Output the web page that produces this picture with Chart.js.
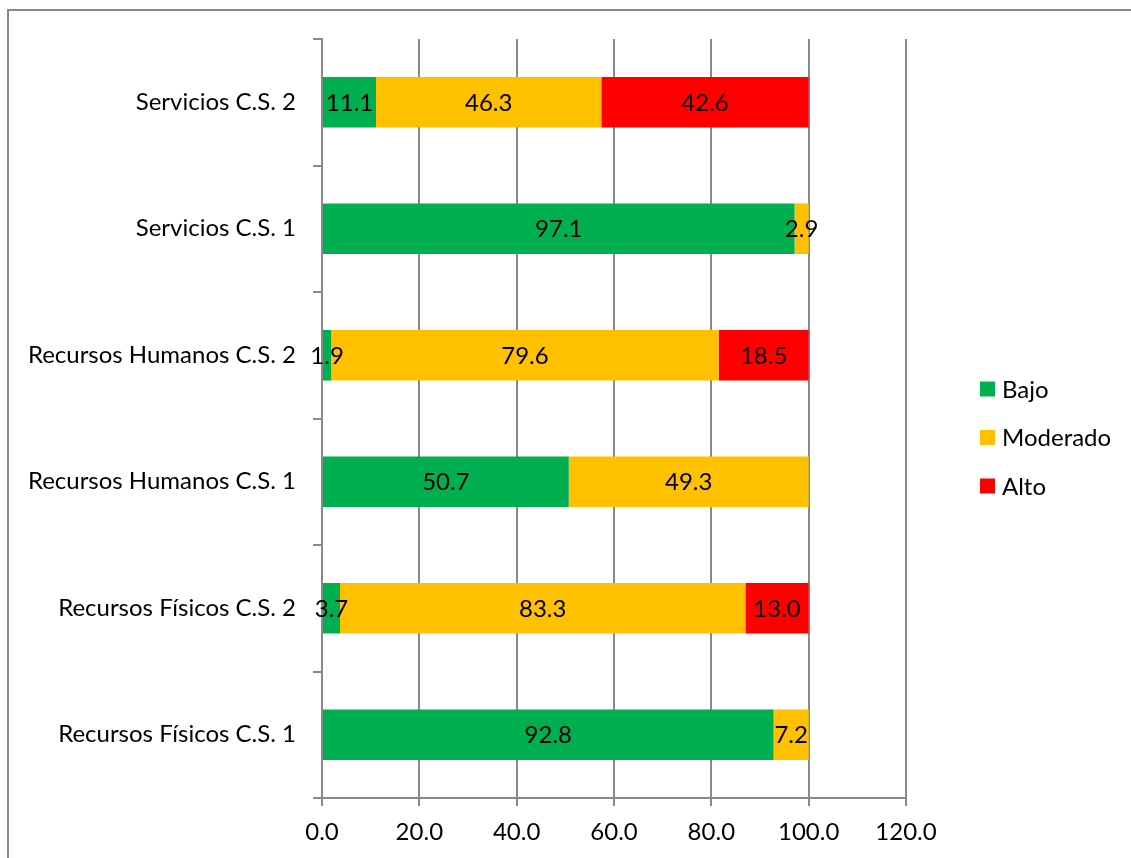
<!DOCTYPE html>
<html>
<head>
<meta charset="utf-8">
<script src="https://cdn.jsdelivr.net/npm/chart.js@4/dist/chart.umd.min.js"></script>
<style>
  html, body { margin: 0; padding: 0; background: #fff; overflow: hidden; }
  #wrap { position: relative; width: 1131px; height: 858px; }
</style>
</head>
<body>
<div id="wrap"><canvas id="chart" width="1131" height="858"></canvas></div>
<script>
const categories = [
  "Servicios C.S. 2",
  "Servicios C.S. 1",
  "Recursos Humanos C.S. 2",
  "Recursos Humanos C.S. 1",
  "Recursos Físicos C.S. 2",
  "Recursos Físicos C.S. 1"
];
const bajo = [11.1, 97.1, 1.9, 50.7, 3.7, 92.8];
const moderado = [46.3, 2.9, 79.6, 49.3, 83.3, 7.2];
const alto = [42.6, 0, 18.5, 0, 13.0, 0];

const FONT = "Lato";
const SIZE = 24;
const GRAY = "#898989";

// value labels in the middle of each segment
const segmentLabels = {
  id: "segmentLabels",
  afterDatasetsDraw(chart) {
    const ctx = chart.ctx;
    ctx.save();
    ctx.font = SIZE + "px " + FONT;
    ctx.fillStyle = "#000";
    ctx.textAlign = "center";
    ctx.textBaseline = "middle";
    chart.data.datasets.forEach((ds, i) => {
      chart.getDatasetMeta(i).data.forEach((bar, j) => {
        const v = ds.data[j];
        if (!v) return;
        const p = bar.getCenterPoint();
        ctx.fillText(v.toFixed(1), p.x, p.y + 1);
      });
    });
    ctx.restore();
  }
};

// legend to the right of the plot, with a gap after the last gridline
const sideLegend = {
  id: "sideLegend",
  afterDraw(chart) {
    const ctx = chart.ctx;
    const x = chart.chartArea.right + 74;
    const y0 = 389;
    const step = 48.5;
    ctx.save();
    ctx.font = SIZE + "px " + FONT;
    ctx.textBaseline = "middle";
    ctx.textAlign = "left";
    chart.data.datasets.forEach((ds, i) => {
      const y = y0 + i * step;
      ctx.fillStyle = ds.backgroundColor;
      ctx.fillRect(x, y - 7.5, 15, 15);
      ctx.fillStyle = "#000";
      ctx.fillText(ds.label, x + 22, y + 1);
    });
    ctx.restore();
  }
};

// outer frame of the chart object
const frame = {
  id: "frame",
  beforeDraw(chart) {
    const ctx = chart.ctx;
    ctx.save();
    ctx.strokeStyle = GRAY;
    ctx.lineWidth = 2;
    ctx.beginPath();
    ctx.moveTo(8, chart.height);
    ctx.lineTo(8, 10);
    ctx.lineTo(chart.width, 10);
    ctx.stroke();
    ctx.restore();
  }
};

new Chart(document.getElementById("chart"), {
  type: "bar",
  data: {
    labels: categories,
    datasets: [
      { label: "Bajo", data: bajo, backgroundColor: "#00B050" },
      { label: "Moderado", data: moderado, backgroundColor: "#FFC000" },
      { label: "Alto", data: alto, backgroundColor: "#FF0000" }
    ]
  },
  options: {
    indexAxis: "y",
    responsive: false,
    animation: false,
    layout: { padding: { left: 10, top: 39, right: 225, bottom: 0 } },
    datasets: { bar: { barPercentage: 0.4, categoryPercentage: 1.0 } },
    scales: {
      x: {
        stacked: true,
        min: 0,
        max: 120,
        ticks: {
          stepSize: 20,
          padding: 12,
          color: "#000",
          font: { family: FONT, size: SIZE },
          callback: (v) => v.toFixed(1)
        },
        grid: { color: GRAY, lineWidth: 2, tickLength: 8 },
        border: { color: GRAY, width: 2 },
        afterFit(scale) { scale.height = 60; }
      },
      y: {
        stacked: true,
        ticks: {
          padding: 17,
          color: "#000",
          font: { family: FONT, size: SIZE }
        },
        grid: { drawOnChartArea: false, color: GRAY, lineWidth: 2, tickLength: 9 },
        border: { color: GRAY, width: 2 },
        afterFit(scale) { scale.width = 312; }
      }
    },
    plugins: {
      legend: { display: false },
      tooltip: { enabled: false }
    }
  },
  plugins: [segmentLabels, sideLegend, frame]
});
</script>
</body>
</html>
